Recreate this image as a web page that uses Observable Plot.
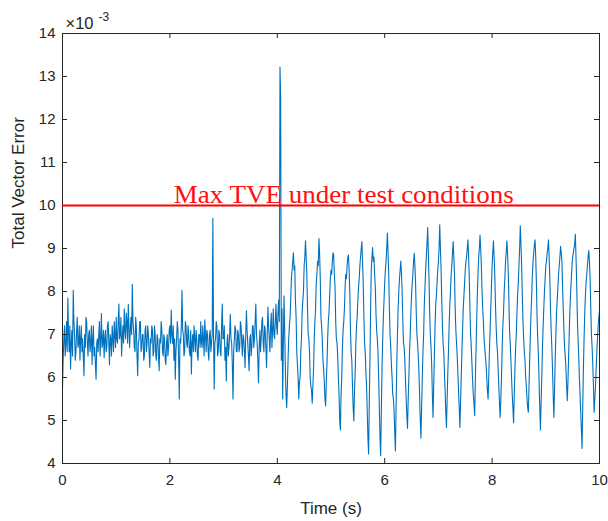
<!DOCTYPE html>
<html><head><meta charset="utf-8">
<script src="https://cdn.jsdelivr.net/npm/d3@7"></script>
<script src="https://cdn.jsdelivr.net/npm/@observablehq/plot@0.6"></script>
<style>body{margin:0;background:#fff}</style>
</head><body><div id="chart"></div>
<script>
// Sampling interval of the series (seconds)
const sampleStep = 0.0125;
// Total Vector Error, in units of 1e-3
const tveSeries = [
  5.75, 6.4, 6.9, 7.2, 6.5, 6.8, 7.3, 6.6, 7.85, 7.0, 6.6, 7.2, 6.2, 6.8, 7.1, 6.5, 8.03, 7.3, 7.0, 6.4,
  6.6, 7.1, 7.4, 6.7, 6.8, 7.2, 6.4, 6.9, 7.2, 6.6, 6.9, 6.5, 6.04, 7.0, 6.7, 7.4, 7.3, 6.8, 6.5, 7.0,
  7.1, 6.6, 6.8, 7.2, 6.3, 6.9, 7.2, 6.5, 6.7, 6.3, 5.96, 6.8, 6.9, 6.6, 7.0, 7.3, 6.5, 6.9, 7.49, 6.7,
  6.8, 7.1, 6.46, 6.9, 7.1, 6.6, 6.7, 7.2, 7.3, 6.8, 6.3, 7.0, 6.9, 6.5, 7.2, 6.9, 6.6, 7.3, 7.0, 6.7,
  7.4, 6.9, 6.8, 7.3, 7.71, 6.9, 7.0, 7.4, 6.5, 6.9, 7.2, 6.8, 7.6, 7.1, 6.9, 7.5, 7.3, 6.8, 7.7, 7.2,
  6.7, 7.1, 7.4, 7.0, 8.17, 7.3, 7.1, 6.7, 6.6, 7.4, 7.2, 6.5, 6.04, 6.8, 6.9, 7.3, 7.3, 6.6, 6.7, 7.0,
  7.0, 6.4, 6.5, 7.1, 7.2, 6.6, 6.8, 7.2, 7.0, 6.6, 6.23, 6.9, 6.8, 7.2, 7.1, 6.5, 6.6, 7.2, 7.0, 6.5,
  6.4, 7.0, 6.9, 6.5, 6.16, 6.9, 6.8, 7.3, 7.1, 6.6, 6.5, 7.0, 6.9, 6.4, 6.3, 6.8, 7.0, 6.5, 6.7, 7.1,
  7.2, 6.8, 7.57, 7.0, 6.8, 7.2, 6.4, 6.9, 5.96, 6.6, 6.9, 7.3, 7.1, 6.4, 5.5, 6.9, 6.8, 7.2, 8.03, 7.1,
  7.0, 6.5, 6.6, 7.3, 7.2, 6.8, 6.7, 7.2, 7.0, 6.6, 6.5, 7.1, 6.08, 6.8, 7.0, 6.6, 7.2, 6.9, 6.6, 7.1,
  6.9, 6.5, 6.4, 7.0, 7.0, 6.7, 7.3, 6.8, 6.7, 7.2, 6.9, 6.5, 7.34, 7.0, 6.6, 7.1, 7.0, 6.6, 6.4, 7.0,
  7.1, 6.6, 6.8, 7.0, 9.7, 6.9, 5.73, 6.8, 6.9, 7.3, 7.2, 6.5, 6.6, 7.1, 7.0, 6.6, 6.5, 7.2, 7.71, 6.9,
  6.9, 7.2, 6.4, 6.7, 5.92, 6.8, 7.0, 6.5, 6.7, 7.0, 7.47, 6.9, 6.8, 6.3, 5.5, 6.6, 6.9, 7.2, 7.1, 6.6,
  6.6, 7.1, 7.0, 6.6, 6.7, 7.3, 7.2, 6.8, 6.5, 7.0, 6.9, 6.6, 6.23, 7.0, 7.55, 7.1, 6.8, 6.5, 6.16, 6.9,
  7.0, 6.5, 6.7, 7.2, 7.2, 6.7, 6.9, 7.3, 7.71, 7.0, 6.8, 6.4, 5.88, 6.7, 7.1, 6.6, 6.9, 7.3, 7.4, 6.8,
  6.6, 7.2, 7.1, 6.7, 6.23, 7.0, 7.64, 7.2, 6.9, 6.6, 7.2, 7.5, 6.7, 7.1, 7.6, 7.0, 6.9, 7.3, 7.71, 7.2,
  7.0, 7.5, 7.8, 7.3, 13.22, 12.5, 6.4, 7.6,
  5.5, 6.8, 7.9, 7.1, 6.2, 5.6, 5.3, 5.8, 6.4, 6.9, 7.2, 7.4,
  7.8, 8.3, 8.5, 8.7, 8.9, 8.5, 8.6, 7.8, 7.4, 6.6, 6.3, 6.0, 5.5, 5.9, 6.0, 6.6, 6.9, 7.5, 7.8, 8.0,
  8.6, 8.8, 9.18, 8.8, 8.4, 7.6, 7.0, 6.9, 6.6, 6.0, 5.8, 5.7, 5.4, 5.8, 6.2, 6.9, 7.3, 7.6, 8.2, 8.4,
  8.7, 8.6, 9.23, 8.9, 8.3, 7.4, 7.2, 6.9, 6.4, 6.2, 5.9, 5.5, 5.34, 5.9, 6.3, 6.9, 7.3, 7.5, 7.9, 8.3,
  8.5, 8.4, 8.7, 8.9, 8.85, 8.4, 8.1, 7.3, 6.9, 6.8, 6.5, 6.0, 5.6, 5.0, 4.78, 5.6, 6.0, 6.7, 7.1, 7.3,
  7.6, 8.1, 8.4, 8.3, 8.6, 8.8, 8.85, 8.5, 8.0, 7.1, 6.6, 6.4, 5.8, 5.3, 4.99, 5.7, 6.1, 6.8, 7.2, 7.4,
  7.8, 8.1, 8.3, 8.6, 8.8, 9.0, 9.16, 8.7, 8.2, 7.4, 6.8, 6.6, 6.1, 5.8, 5.2, 4.6, 4.22, 5.4, 6.4, 7.6,
  8.5, 8.8, 9.02, 8.7, 8.8, 8.4, 8.1, 7.5, 7.1, 6.9, 6.6, 6.0, 5.3, 4.6, 4.18, 5.2, 6.2, 6.9, 7.4, 7.8,
  8.2, 8.5, 8.7, 9.0, 9.36, 8.9, 8.4, 7.6, 7.0, 6.7, 6.3, 6.0, 5.6, 5.5, 5.2, 4.7, 4.29, 5.4, 6.3, 7.0,
  7.6, 8.0, 8.3, 8.5, 8.71, 8.4, 8.0, 7.3, 6.8, 6.7, 6.4, 5.9, 5.5, 5.1, 4.82, 5.5, 6.0, 6.6, 7.0, 7.5,
  7.9, 8.2, 8.4, 8.7, 8.89, 8.6, 8.2, 7.5, 7.0, 6.8, 6.5, 6.1, 5.6, 5.0, 4.59, 5.3, 6.0, 6.6, 7.0, 7.7,
  8.1, 8.5, 8.8, 9.1, 9.49, 8.9, 8.3, 7.5, 7.0, 6.7, 6.3, 5.6, 5.07, 5.8, 6.5, 7.2, 7.7, 7.9, 8.2, 8.5,
  8.7, 9.0, 9.55, 9.0, 8.5, 7.8, 7.2, 6.8, 6.6, 6.1, 5.7, 5.2, 4.84, 5.5, 6.1, 6.6, 7.2, 7.7, 8.0, 8.4,
  8.6, 8.9, 9.16, 8.8, 8.4, 7.6, 7.1, 6.8, 6.5, 6.1, 5.7, 5.3, 4.84, 5.4, 6.0, 6.6, 7.1, 7.6, 7.9, 8.2,
  8.5, 8.7, 8.8, 9.0, 9.2, 8.8, 8.3, 7.6, 7.0, 6.7, 6.3, 5.9, 5.6, 5.4, 5.11, 5.9, 6.6, 7.3, 7.9, 8.4,
  8.8, 9.0, 9.31, 9.0, 8.6, 8.0, 7.6, 7.3, 6.9, 6.7, 6.5, 6.3, 6.0, 5.7, 5.5, 6.0, 6.6, 7.1, 7.6, 8.1,
  8.6, 8.9, 9.18, 8.8, 8.4, 7.7, 7.2, 6.8, 6.6, 6.2, 5.8, 5.4, 5.07, 5.5, 6.0, 6.7, 7.2, 7.5, 8.0, 8.3,
  8.7, 8.9, 9.18, 8.9, 8.5, 7.8, 7.1, 6.8, 6.4, 6.0, 5.6, 5.3, 4.95, 5.6, 6.2, 6.7, 7.0, 7.5, 7.9, 8.2,
  8.6, 9.0, 9.53, 9.1, 8.6, 7.9, 7.3, 6.9, 6.6, 6.4, 6.0, 5.8, 5.5, 5.3, 5.19, 5.8, 6.4, 7.0, 7.5, 7.9,
  8.4, 8.7, 8.9, 9.1, 9.2, 8.8, 8.2, 7.4, 6.9, 6.5, 5.9, 5.3, 4.78, 5.4, 6.0, 6.7, 7.2, 7.6, 8.0, 8.3,
  8.6, 8.7, 8.9, 9.0, 9.2, 8.8, 8.3, 7.6, 7.1, 6.7, 6.2, 5.6, 5.07, 5.7, 6.4, 7.0, 7.5, 7.8, 8.1, 8.4,
  8.6, 8.8, 9.05, 8.9, 8.7, 8.1, 7.6, 7.1, 6.7, 6.5, 6.2, 5.8, 5.46, 5.9, 6.5, 7.1, 7.6, 8.0, 8.3, 8.6,
  8.8, 8.9, 9.0, 9.1, 9.33, 8.8, 8.2, 7.4, 6.9, 6.5, 6.0, 5.6, 5.2, 4.8, 4.35, 5.3, 6.2, 6.9, 7.5, 7.9,
  8.2, 8.4, 8.6, 8.8, 8.95, 8.7, 8.3, 7.6, 7.0, 6.7, 6.3, 5.8, 5.19, 5.5, 5.8, 6.2, 6.6, 6.9, 7.2, 7.4,
  7.55
];
const xTicks = [0, 2, 4, 6, 8, 10];
const yTicks = [4, 5, 6, 7, 8, 9, 10, 11, 12, 13, 14];
const thresholdValue = [10];
const annotationText = ["Max TVE under test conditions"];
const annotationTime = [2.07];
const xLabel = "Time (s)";
const yLabel = "Total Vector Error";
const exponentBase = "×10";
const exponentPower = "-3";

const data = tveSeries.map((v, i) => ({t: i * sampleStep, v}));

const W = 608, H = 521, mL = 62, mR = 9, mT = 33, mB = 58;
const frameW = W - mL - mR, frameH = H - mT - mB;
const axisColor = "#262626";
const sans = "'Liberation Sans', Arial, Helvetica, sans-serif";

const chart = Plot.plot({
  width: W, height: H,
  marginLeft: mL, marginRight: mR, marginTop: mT, marginBottom: mB,
  style: {fontFamily: sans, fontSize: "15px", color: axisColor, background: "#fff", overflow: "visible"},
  x: {domain: [0, 10], ticks: xTicks, tickSize: 0, tickPadding: 11, label: null},
  y: {domain: [4, 14], ticks: yTicks, tickSize: 0, tickPadding: 7, label: null},
  marks: [
    Plot.lineY(data, {x: "t", y: "v", stroke: "#0072BD", strokeWidth: 1.1}),
    Plot.tickX(xTicks, {x: d => d, stroke: axisColor, insetTop: frameH - 5}),
    Plot.tickX(xTicks, {x: d => d, stroke: axisColor, insetBottom: frameH - 5}),
    Plot.tickY(yTicks, {y: d => d, stroke: axisColor, insetRight: frameW - 5}),
    Plot.tickY(yTicks, {y: d => d, stroke: axisColor, insetLeft: frameW - 5}),
    Plot.frame({stroke: axisColor, strokeWidth: 1}),
    Plot.ruleY(thresholdValue, {y: d => d, stroke: "#ff0000", strokeWidth: 2}),
    Plot.text(annotationText, {x: annotationTime, y: thresholdValue, text: d => d,
      textAnchor: "start", lineAnchor: "bottom", dy: -3, fill: "#ff1010",
      fontFamily: "'Liberation Serif', 'Times New Roman', serif", fontSize: 25}),
    Plot.text([xLabel], {text: d => d, frameAnchor: "bottom", dy: 50, fontSize: 17, fill: axisColor}),
    Plot.text([yLabel], {text: d => d, frameAnchor: "left", dx: -44, rotate: -90, fontSize: 17, fill: axisColor}),
    Plot.text([exponentBase], {text: d => d, frameAnchor: "top-left", textAnchor: "start", lineAnchor: "bottom", dx: 3, dy: -5, fontSize: 16.5, fill: axisColor}),
    Plot.text([exponentPower], {text: d => d, frameAnchor: "top-left", textAnchor: "start", lineAnchor: "bottom", dx: 36, dy: -13, fontSize: 12, fill: axisColor})
  ]
});
document.getElementById("chart").appendChild(chart);
d3.select(chart).selectAll("text").filter(function() { return this.textContent === annotationText[0]; })
  .attr("textLength", 340).attr("lengthAdjust", "spacingAndGlyphs");
</script>
</body></html>
